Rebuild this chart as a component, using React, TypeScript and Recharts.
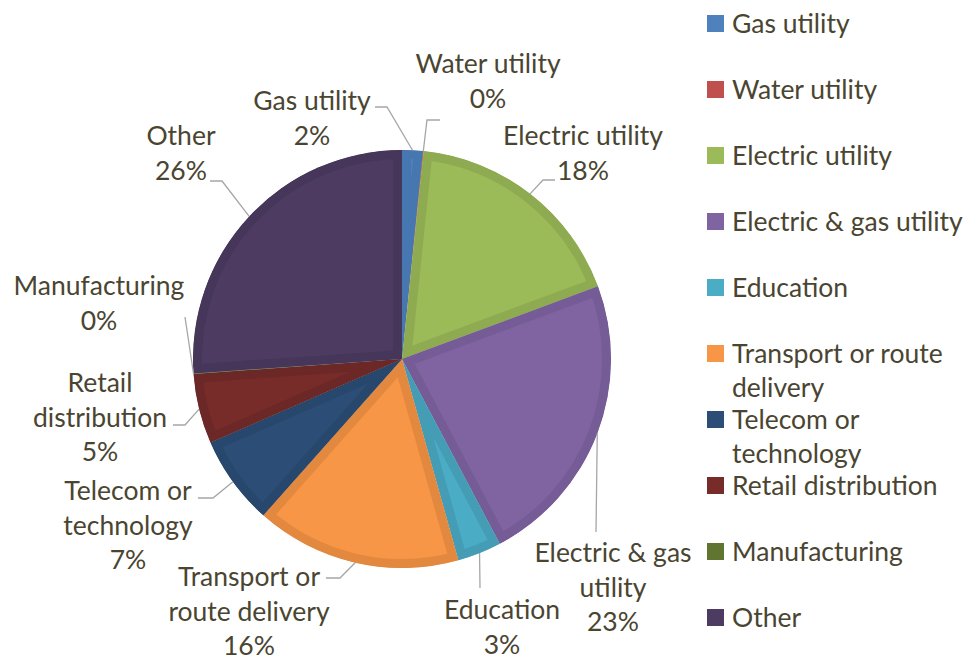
import React from "react";
import { PieChart, Pie, Cell, Legend, Sector } from "recharts";

// ---- data ----
const NAMES = [
  "Gas utility",
  "Water utility",
  "Electric utility",
  "Electric & gas utility",
  "Education",
  "Transport or route delivery",
  "Telecom or technology",
  "Retail distribution",
  "Manufacturing",
  "Other",
];
const VALUES = [1.6, 0.05, 17.7, 22.9, 3.4, 15.9, 6.9, 5.4, 0.05, 26.1];

// wrapped texts
const LABEL_LINES = [
  ["Gas utility"],
  ["Water utility"],
  ["Electric utility"],
  ["Electric & gas", "utility"],
  ["Education"],
  ["Transport or", "route delivery"],
  ["Telecom or", "technology"],
  ["Retail", "distribution"],
  ["Manufacturing"],
  ["Other"],
];
const LEGEND_LINES = [
  ["Gas utility"],
  ["Water utility"],
  ["Electric utility"],
  ["Electric & gas utility"],
  ["Education"],
  ["Transport or route", "delivery"],
  ["Telecom or", "technology"],
  ["Retail distribution"],
  ["Manufacturing"],
  ["Other"],
];

// ---- styles ----
const FILLS = ["#4F81BD", "#C0504D", "#9BBB59", "#8064A2", "#4BACC6", "#F79646", "#2C4D75", "#772C2A", "#5F7530", "#4D3B62"];
const BORDERS = ["#4777B0", "#B0494A", "#8EAB51", "#765C96", "#449DB5", "#E3893F", "#28476C", "#6C2826", "#566B2C", "#46365A"];
const TEXT_COLOR = "#4A4531";
const LINE_COLOR = "#A6A6A6";
const FONT = "Lato, 'Open Sans', sans-serif";
const FONT_SIZE = 26.5;
const LINE_H = 34.5;
const BORDER_W = 9;

// label placement (offsets from the pie centre): text centre x, first line y, leader elbow, leader tail
const LABEL_LAYOUT = [
  { tx: -90, ty: -259, elbow: [-15, -252], tail: [-27, -252] },
  { tx: 86, ty: -296, elbow: [25, -239], tail: [38, -239] },
  { tx: 181, ty: -224, elbow: [141, -179], tail: [153, -179] },
  { tx: 211, ty: 193, elbow: [194, 173], tail: [194, 173] },
  { tx: 100, ty: 250, elbow: [78, 229], tail: [78, 229] },
  { tx: -153, ty: 217, elbow: [-62, 219], tail: [-76, 219] },
  { tx: -274, ty: 131, elbow: [-189, 139], tail: [-204, 139] },
  { tx: -302, ty: 23, elbow: [-217, 66], tail: [-229, 66] },
  { tx: -303, ty: -74, elbow: [-217, -42], tail: [-217, -42] },
  { tx: -221, ty: -224, elbow: [-180, -178], tail: [-192, -178] },
];

const TOTAL = VALUES.reduce((a, b) => a + b, 0);
const data = NAMES.map((name, i) => ({ name, value: VALUES[i] }));

const BorderedSector = (props: any) => {
  const { cx, cy, innerRadius, outerRadius, startAngle, endAngle, fill, stroke } = props;
  const id = `slice-clip-${Math.round(startAngle * 1000)}-${Math.round(endAngle * 1000)}`;
  return (
    <g>
      <defs>
        <clipPath id={id}>
          <Sector cx={cx} cy={cy} innerRadius={innerRadius} outerRadius={outerRadius} startAngle={startAngle} endAngle={endAngle} />
        </clipPath>
      </defs>
      <Sector
        cx={cx}
        cy={cy}
        innerRadius={innerRadius}
        outerRadius={outerRadius}
        startAngle={startAngle}
        endAngle={endAngle}
        fill={fill}
        stroke={stroke}
        strokeWidth={BORDER_W * 2}
        strokeLinejoin="miter"
        strokeMiterlimit={80}
        clipPath={`url(#${id})`}
      />
    </g>
  );
};

const renderLabel = (props: any) => {
  const { cx, cy, midAngle, outerRadius, index } = props;
  const L = LABEL_LAYOUT[index];
  const rad = (-midAngle * Math.PI) / 180;
  const sx = cx + outerRadius * Math.cos(rad);
  const sy = cy + outerRadius * Math.sin(rad);
  const pts = [
    [sx, sy],
    [cx + L.elbow[0], cy + L.elbow[1]],
    [cx + L.tail[0], cy + L.tail[1]],
  ];
  const pct = `${Math.round((VALUES[index] / TOTAL) * 100)}%`;
  const lines = [...LABEL_LINES[index], pct];
  return (
    <g>
      <polyline points={pts.map((p) => p.join(",")).join(" ")} fill="none" stroke={LINE_COLOR} strokeWidth={1.3} />
      <text
        x={cx + L.tx}
        y={cy + L.ty}
        textAnchor="middle"
        fill={TEXT_COLOR}
        fontFamily={FONT}
        fontSize={FONT_SIZE}
      >
        {lines.map((t, k) => (
          <tspan key={k} x={cx + L.tx} y={cy + L.ty + k * LINE_H} dominantBaseline="central">
            {t}
          </tspan>
        ))}
      </text>
    </g>
  );
};

const renderLegend = () => (
  <div style={{ position: "relative", width: 259, height: 660, fontFamily: FONT, fontSize: FONT_SIZE, color: TEXT_COLOR }}>
    {NAMES.map((name, i) => (
      <div key={name} style={{ position: "absolute", left: 0, top: 5.5 + i * 66, display: "flex", alignItems: "flex-start" }}>
        <div style={{ width: 17, height: 17, background: FILLS[i], marginTop: 9, marginRight: 8, flex: "none" }} />
        <div style={{ lineHeight: `${LINE_H}px`, whiteSpace: "nowrap" }}>
          {LEGEND_LINES[i].map((t, k) => (
            <div key={k}>{t}</div>
          ))}
        </div>
      </div>
    ))}
  </div>
);

export default function App() {
  return (
    <div style={{ position: "absolute", left: 0, top: 0, width: 966, height: 660, background: "#fff" }}>
      <PieChart width={966} height={660} margin={{ top: 0, right: 0, bottom: 0, left: 0 }}>
        <Pie
          data={data}
          dataKey="value"
          nameKey="name"
          cx={402}
          cy={359}
          outerRadius={209}
          startAngle={90}
          endAngle={-270}
          isAnimationActive={false}
          shape={BorderedSector}
          label={renderLabel}
          labelLine={false}
        >
          {data.map((d, i) => (
            <Cell key={d.name} fill={FILLS[i]} stroke={BORDERS[i]} />
          ))}
        </Pie>
        <Legend
          layout="vertical"
          align="right"
          verticalAlign="top"
          content={renderLegend}
          wrapperStyle={{ position: "absolute", left: 707, top: 0, width: 259, height: 660 }}
        />
      </PieChart>
    </div>
  );
}
